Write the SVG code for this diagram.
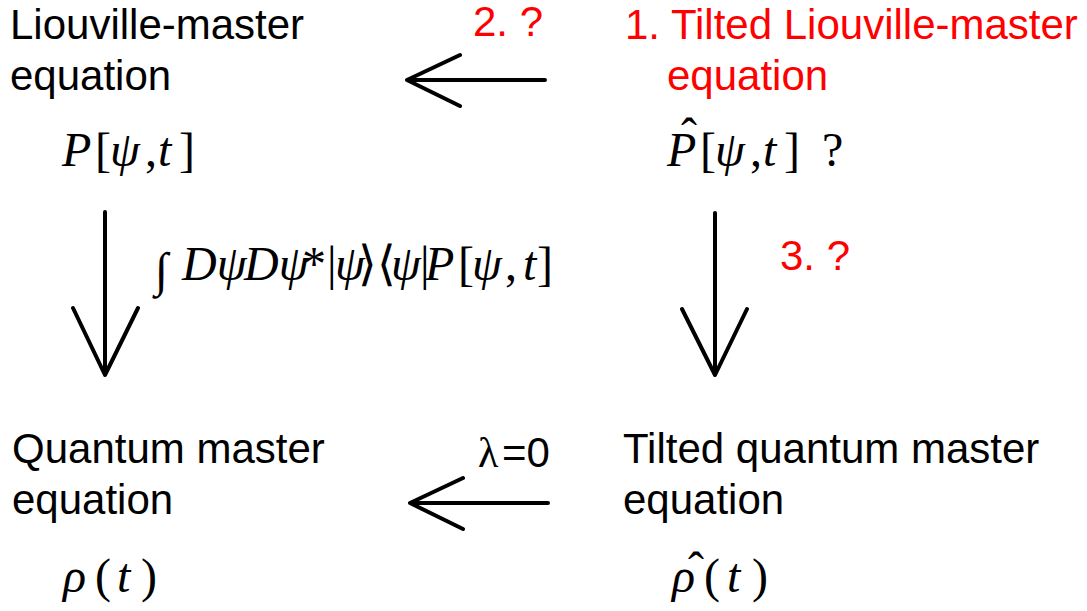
<svg xmlns="http://www.w3.org/2000/svg" width="1087" height="611" viewBox="0 0 1087 611">
<style>
.t{font-family:"Liberation Sans",Arial,sans-serif;font-size:42px;fill:#000}
.r{fill:#ff0000}
.m{font-family:"Liberation Serif","Times New Roman",serif;font-size:48px;fill:#000}
.i{font-style:italic}
.ln{stroke:#000;stroke-width:4;fill:none;stroke-linecap:round;stroke-linejoin:round}
</style>
<rect width="1087" height="611" fill="#fff"/>
<g id="connectors">
<g id="arrow-top"><path class="ln" d="M545 80H407M460 55L407 80L460 106"/></g>
<g id="arrow-bottom"><path class="ln" d="M548 503H410M463 478L410 503L463 529"/></g>
<g id="arrow-left"><path class="ln" d="M105 212V375M73 308L105 375L138 308"/></g>
<g id="arrow-right"><path class="ln" d="M715 213V375M682 309L715 375L747 309"/></g>
<text class="t r" x="473" y="36">2. ?</text>
<text class="t" y="467" font-size="46"><tspan x="478" font-family="Liberation Serif,serif">λ</tspan><tspan x="502">=0</tspan></text>
<text class="t r" x="780" y="270">3. ?</text>
<text class="m" x="155" y="286" font-size="56">∫</text>
<text class="m" y="280" font-size="37"><tspan class="i" x="182">Dψ</tspan><tspan class="i" x="244">Dψ</tspan><tspan x="302">*</tspan><tspan x="327">|</tspan><tspan class="i" x="335">ψ</tspan><tspan x="358">⟩⟨</tspan><tspan class="i" x="391">ψ</tspan><tspan x="420">|</tspan><tspan class="i" x="425">P</tspan><tspan x="458">[</tspan><tspan class="i" x="472">ψ</tspan><tspan x="505">,</tspan><tspan class="i" x="523">t</tspan><tspan x="537">]</tspan></text>
</g>
<g id="node-liouville">
<text class="t" x="10" y="39">Liouville-master</text>
<text class="t" x="10" y="90">equation</text>
<text class="m" y="166"><tspan class="i" x="62">P</tspan><tspan x="95">[</tspan><tspan class="i" x="110">ψ</tspan><tspan x="145">,</tspan><tspan class="i" x="158">t</tspan><tspan x="179">]</tspan></text>
</g>
<g id="node-tilted-liouville">
<text class="t r" x="625" y="39">1. Tilted Liouville-master</text>
<text class="t r" x="667" y="90">equation</text>
<text class="m" x="681" y="152">ˆ</text>
<text class="m" y="166"><tspan class="i" x="667">P</tspan><tspan x="700">[</tspan><tspan class="i" x="715">ψ</tspan><tspan x="750">,</tspan><tspan class="i" x="763">t</tspan><tspan x="784">]</tspan><tspan x="822">?</tspan></text>
</g>
<g id="node-quantum">
<text class="t" x="12" y="463">Quantum master</text>
<text class="t" x="12" y="514">equation</text>
<text class="m" y="592" font-size="58"><tspan class="i" x="63">ρ</tspan><tspan x="95">(</tspan><tspan class="i" x="117">t</tspan><tspan x="141">)</tspan></text>
</g>
<g id="node-tilted-quantum">
<text class="t" x="623" y="463">Tilted quantum master</text>
<text class="t" x="623" y="514">equation</text>
<text class="m" x="688" y="586" font-size="50">ˆ</text>
<text class="m" y="592" font-size="58"><tspan class="i" x="672">ρ</tspan><tspan x="704">(</tspan><tspan class="i" x="727">t</tspan><tspan x="752">)</tspan></text>
</g>
</svg>
